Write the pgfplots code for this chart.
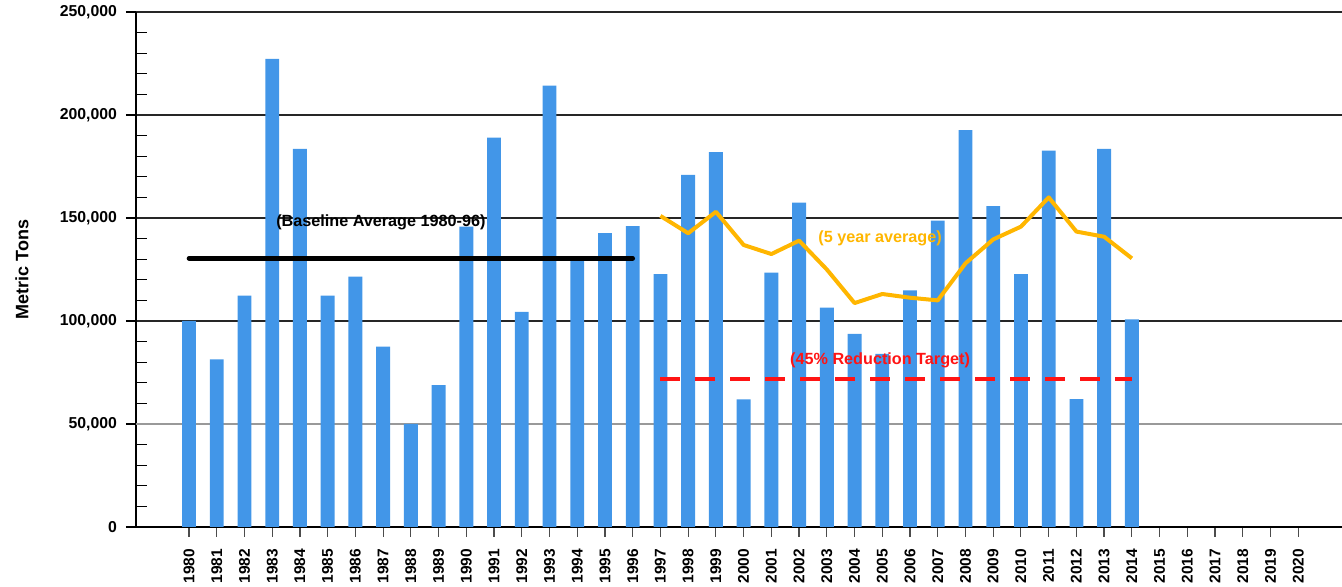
\documentclass[border=0pt]{standalone}
\usepackage{pgfplots}
\pgfplotsset{compat=1.18}
\usepackage{fontspec}
\setmainfont{Liberation Sans}
\definecolor{barblue}{RGB}{66,150,232}
\definecolor{avgorange}{RGB}{255,182,0}
\definecolor{tgtred}{RGB}{255,20,20}
\begin{document}
\begin{tikzpicture}
\begin{axis}[
  scale only axis, width=603pt, height=257.5pt,
  xmin=1978.089, xmax=2021.576, ymin=0, ymax=250000,
  axis x line=bottom, axis y line=left,
  axis line style={-, line width=0.75pt, black},
  /pgf/number format/assume math mode=true,
  xtick={1980,...,2020},
  x tick label style={rotate=90, anchor=east, font=\bfseries\fontsize{7.75}{8}\selectfont, /pgf/number format/1000 sep={}},
  xticklabel shift=2.5pt,
  ytick={0,100000,150000,200000,250000},
  extra y ticks={50000},
  extra y tick style={grid style={black!40, line width=0.6pt}},
  minor ytick={10000,20000,30000,40000,60000,70000,80000,90000,110000,120000,130000,140000,160000,170000,180000,190000,210000,220000,230000,240000},
  scaled y ticks=false,
  y tick label style={font=\bfseries\fontsize{7.9}{9}\selectfont, /pgf/number format/.cd, fixed, 1000 sep={,}},
  yticklabel shift=1pt,
  ymajorgrids, grid style={black!85, line width=0.6pt},
  tick align=outside, major tick length=5pt, minor tick length=5.5pt,
  tick style={black, line width=0.6pt},
  minor y tick style={xshift=5.5pt},
  xtick style={black!70},
  ylabel={Metric Tons},
  ylabel style={font=\bfseries\fontsize{9}{10}\selectfont, at={(axis description cs:-0.0945,0.5)}, anchor=center},
]
\coordinate (ll) at (rel axis cs:0,0);
\coordinate (ur) at (rel axis cs:1,1);
\addplot[ybar, bar width=0.5, fill=barblue, draw=none] coordinates {
(1980,100100) (1981,81400) (1982,112300) (1983,227200) (1984,183500)
(1985,112300) (1986,121500) (1987,87500) (1988,50000) (1989,68900)
(1990,145800) (1991,189000) (1992,104400) (1993,214200) (1994,129600)
(1995,142600) (1996,146000) (1997,122800) (1998,170900) (1999,182000)
(2000,62000) (2001,123500) (2002,157400) (2003,106500) (2004,93800)
(2005,84000) (2006,114900) (2007,148700) (2008,192600) (2009,155800)
(2010,122800) (2011,182700) (2012,62100) (2013,183500) (2014,100800)
};
\addplot[black, line width=2.3pt, line cap=round] coordinates {(1980,130400) (1996,130400)};
\addplot[tgtred, line width=2.2pt, dash pattern=on 10pt off 7.5pt] coordinates {(1997,71700) (2014,71700)};
\addplot[avgorange, line width=2pt, line join=round] coordinates {
(1997,151000) (1998,142600) (1999,153000) (2000,136900) (2001,132500)
(2002,139000) (2003,125000) (2004,108700) (2005,113100) (2006,111300)
(2007,110000) (2008,128000) (2009,139600) (2010,145800) (2011,160000)
(2012,143400) (2013,140900) (2014,130400)
};
\node[font=\bfseries\fontsize{8.1}{9}\selectfont, text=black] at (axis cs:1986.92,148000) {(Baseline Average 1980-96)};
\node[font=\bfseries\fontsize{8.1}{9}\selectfont, text=avgorange] at (axis cs:2004.92,140300) {(5 year average)};
\node[font=\bfseries\fontsize{8.1}{9}\selectfont, text=tgtred] at (axis cs:2004.92,81000) {(45\% Reduction Target)};
\end{axis}
\pgfresetboundingbox
\path[use as bounding box] ([xshift=-68pt,yshift=-30pt]ll) rectangle ([yshift=6pt]ur);
\end{tikzpicture}
\end{document}
